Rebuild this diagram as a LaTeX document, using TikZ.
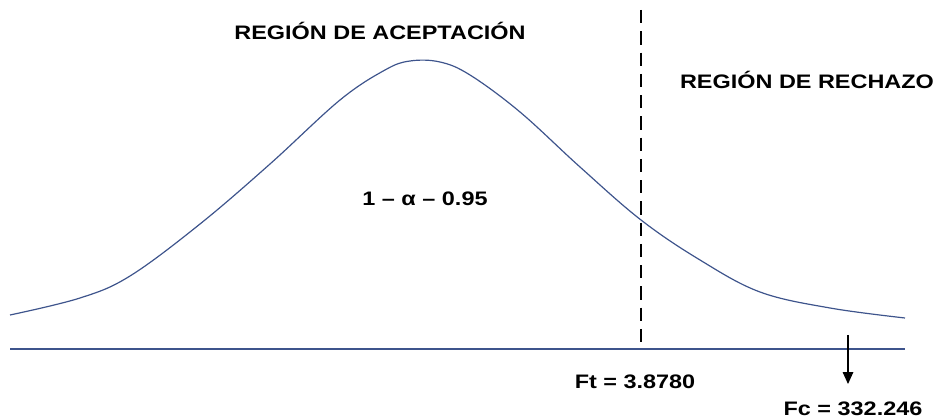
\documentclass[tikz,border=0pt]{standalone}
\usepackage{fontspec}
\setmainfont{Liberation Sans}
\usepackage{tikz}
\usetikzlibrary{arrows.meta}
\definecolor{curva}{RGB}{62,84,140}

\begin{document}
\begin{tikzpicture}[x=0.02646cm, y=-0.02646cm,
    etiq/.style={font=\bfseries\fontsize{14.7}{16}\selectfont, inner sep=1pt, xscale=1.2, transform shape},
    linea/.style={color=curva, line width=0.9pt}]
    \useasboundingbox (0,0) rectangle (944,419);
    \coordinate (E1) at (10,349);
    \coordinate (E2) at (905,349);
    \coordinate (T1) at (641,10);
    \coordinate (T2) at (641,349);
    \coordinate (P1) at (848,335);
    \coordinate (P2) at (848,384);
    \draw[linea] (E1) -- (E2);
    \draw[linea] plot[smooth, tension=0.6] coordinates {(10,315) (80,298) (130,276) (200,224) (270,164) (340,100) (385,70) (410,61) (440,62) (470,75) (520,112) (580,167) (641,220) (700,260) (760,292) (830,308) (905,318)};
    \draw[black, line width=1.4pt, dash pattern=on 10pt off 6pt] (T1) -- (T2); %VALORE CRITICO
    \draw[black, line width=0.8pt, -{Triangle[length=9pt,width=8pt]}] (P1) -- (P2);
    \node[etiq] (acept) at (380,31) {REGIÓN DE ACEPTACIÓN};
    \node[etiq] (rech) at (807,80) {REGIÓN DE RECHAZO};
    \node[etiq] (alfa) at (425,199) {1 – α – 0.95};
    \node[etiq] (ft) at (635,382) {Ft = 3.8780};
    \node[etiq] (fc) at (853,409) {Fc = 332.246};
\end{tikzpicture}
\end{document}
